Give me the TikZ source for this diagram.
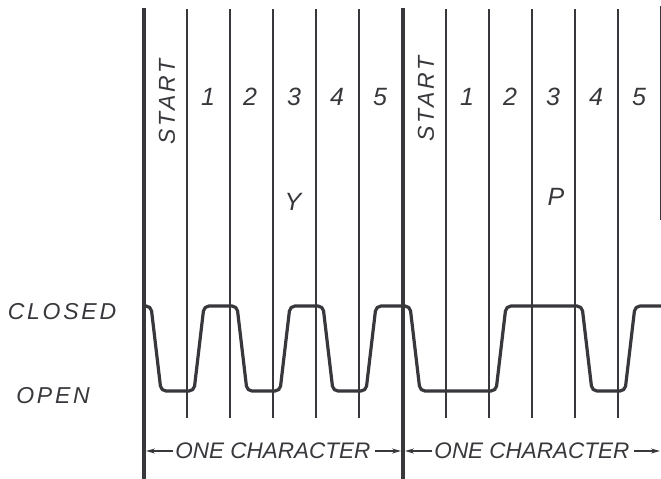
\documentclass[tikz,border=0pt]{standalone}
\usepackage{fontspec}
\newfontfamily\rotulo[LetterSpace=12]{Liberation Sans}
\newfontfamily\rotulob{Liberation Sans}
\usetikzlibrary{arrows.meta, positioning}
\definecolor{tinta}{RGB}{55,55,60}

\begin{document}
\begin{tikzpicture}[
    x=1pt, y=-1pt,
    grueso/.style={draw=tinta, line width=3.6pt},
    fino/.style={draw=tinta, line width=1.4pt},
    onda/.style={draw=tinta, line width=3.2pt, rounded corners=5pt, line join=round},
    letra/.style={text=tinta, font=\rotulo\itshape\fontsize{23}{23}\selectfont, inner sep=0pt},
    cifra/.style={text=tinta, font=\rotulob\itshape\fontsize{25}{25}\selectfont, inner sep=0pt},
    titulo/.style={text=tinta, font=\rotulob\itshape\fontsize{22.5}{22.5}\selectfont, inner sep=0pt},
    arrow/.style={-{Stealth[length=9pt, width=5pt]}, draw=tinta, line width=1.4pt}
]
    \useasboundingbox (0,0) rectangle (661,479);

    % Lineas
    \draw[grueso] (144,8) -- (144,479);
    \draw[grueso] (403,8) -- (403,479);
    \draw[grueso] (662,6) -- (662,220);
    \foreach \x in {187,230,273,316,359,446,489,532,575,618}
        \draw[fino] (\x,9) -- (\x,418);

    % Onda
    \draw[onda] (144,306) -- (151,306) -- (161,391) -- (194,391) -- (204,306) -- (237,306)
        -- (247,391) -- (280,391) -- (290,306) -- (323,306) -- (333,391) -- (366,391)
        -- (376,306) -- (410,306) -- (420,391) -- (496,391) -- (506,306) -- (582,306)
        -- (592,391) -- (625,391) -- (635,306) -- (665,306);

    % Nodos
    \node[letra] (closed) at (62,312) {CLOSED};
    \node[letra] (open) at (53,396) {OPEN};
    \node[letra, rotate=90] (start1) at (167,102) {START};
    \node[letra, rotate=90] (start2) at (426,99) {START};
    \node[cifra] (a1) at (208,97) {1};
    \node[cifra] (a2) at (250,97) {2};
    \node[cifra] (a3) at (294,97) {3};
    \node[cifra] (a4) at (337,97) {4};
    \node[cifra] (a5) at (380,97) {5};
    \node[cifra] (b1) at (467,97) {1};
    \node[cifra] (b2) at (510,97) {2};
    \node[cifra] (b3) at (553,97) {3};
    \node[cifra] (b4) at (596,97) {4};
    \node[cifra] (b5) at (639,97) {5};
    \node[cifra] (y) at (293,202) {Y};
    \node[cifra] (p) at (556,197) {P};
    \node[titulo] (car1) at (273,451) {ONE CHARACTER};
    \node[titulo] (car2) at (532,451) {ONE CHARACTER};

    \coordinate (m0) at (146,451);
    \coordinate (m1) at (401,451);
    \coordinate (m2) at (405,451);
    \coordinate (m3) at (660,451);

    % Conexiones
    \draw[arrow] ([xshift=-2pt]car1.west) -- (m0);
    \draw[arrow] ([xshift=4pt]car1.east) -- (m1);
    \draw[arrow] ([xshift=-2pt]car2.west) -- (m2);
    \draw[arrow] ([xshift=4pt]car2.east) -- (m3);

\end{tikzpicture}
\end{document}
